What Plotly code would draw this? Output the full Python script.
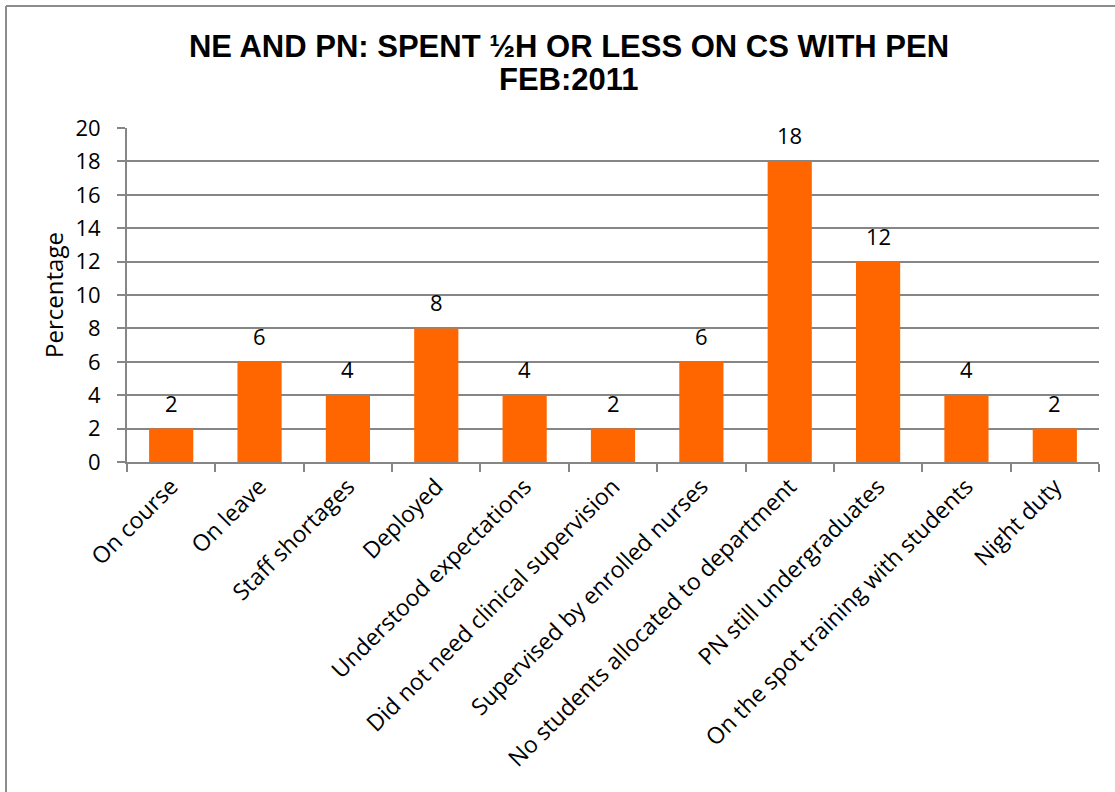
import plotly.graph_objects as go

categories = [
    "On course", "On leave", "Staff shortages", "Deployed",
    "Understood expectations", "Did not need clinical supervision",
    "Supervised by enrolled nurses", "No students allocated to department",
    "PN still undergraduates", "On the spot training with students",
    "Night duty",
]
values = [2, 6, 4, 8, 4, 2, 6, 18, 12, 4, 2]
title_lines = ["NE AND PN: SPENT ½H OR LESS ON CS WITH PEN", "FEB:2011"]

W, H = 1115, 792
ML, MR, MT, MB = 127, 16, 128, 330
pw, ph = W - ML - MR, H - MT - MB

def px_x(x):
    return (x - ML) / pw

def px_y(y):
    return (H - MB - y) / ph

label_font = "Open Sans, Lato, sans-serif"
title_font = dict(family="Liberation Sans, Arial, sans-serif", size=31, color="#000000")
grey = "#868686"

fig = go.Figure(go.Bar(
    x=categories, y=values,
    marker=dict(color="#FF6600", line=dict(width=0)),
    hoverinfo="x+y",
))

for c, v in zip(categories, values):
    fig.add_annotation(
        x=c, y=v, text=str(v), showarrow=False,
        yanchor="bottom", yshift=9,
        font=dict(family=label_font, size=22, color="#000000"),
    )

# second title line, set a little tighter than the default line spacing
fig.add_annotation(
    xref="paper", yref="paper", x=px_x(569), y=px_y(79),
    xanchor="center", yanchor="middle", showarrow=False,
    text="<b>%s</b>" % title_lines[1], font=title_font,
)

# chart frame: left and top edges
fig.add_shape(
    type="line", xref="paper", yref="paper",
    x0=px_x(6), x1=px_x(6), y0=px_y(830), y1=px_y(6),
    line=dict(color="#8c8c8c", width=2),
)
fig.add_shape(
    type="line", xref="paper", yref="paper",
    x0=px_x(6), x1=px_x(1130), y0=px_y(6), y1=px_y(6),
    line=dict(color="#8c8c8c", width=2),
)

fig.update_layout(
    width=W, height=H,
    margin=dict(l=ML, r=MR, t=MT, b=MB),
    paper_bgcolor="white", plot_bgcolor="white",
    bargap=0.5,
    showlegend=False,
    title=dict(
        text="<b>%s</b>" % title_lines[0],
        xref="container", x=569 / W, xanchor="center",
        yref="container", y=1 - 46 / H, yanchor="middle",
        font=title_font,
    ),
    xaxis=dict(
        type="category",
        tickangle=-45,
        tickson="boundaries",
        ticks="outside", ticklen=8, tickcolor=grey, tickwidth=2,
        showline=True, linecolor=grey, linewidth=2,
        showgrid=False,
        tickfont=dict(family=label_font, size=23, color="#000000"),
    ),
    yaxis=dict(
        range=[0, 20], dtick=2, tick0=0,
        ticks="outside", ticklen=8, tickcolor=grey, tickwidth=2,
        ticklabelstandoff=12,
        showline=True, linecolor=grey, linewidth=2,
        showgrid=True, gridcolor=grey, gridwidth=1.5,
        zeroline=False,
        tickfont=dict(family=label_font, size=22, color="#000000"),
        title=dict(text="Percentage", standoff=5,
                   font=dict(family=label_font, size=24, color="#000000")),
    ),
)

fig.write_html("out.html")
